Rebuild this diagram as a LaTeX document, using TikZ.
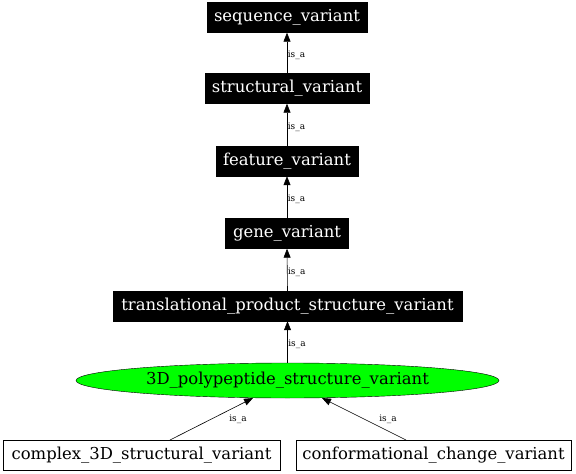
\documentclass[tikz,border=0pt]{standalone}
\usepackage{fontspec}
\setmainfont{DejaVu Serif}
\usetikzlibrary{arrows.meta,shapes.geometric}
\tikzset{
  blackbox/.style={draw=black,fill=black,text=white,inner sep=0pt,minimum height=30bp,font=\fontsize{16.5}{18}\selectfont},
  whitebox/.style={draw=black,fill=white,text=black,inner sep=0pt,minimum height=30bp,font=\fontsize{16.5}{18}\selectfont},
  greenell/.style={ellipse,draw=black,fill=green,inner sep=0pt,minimum width=423bp,minimum height=35bp,font=\fontsize{16.5}{18}\selectfont},
  isa/.style={-{Triangle[length=9bp,width=7bp]},draw=black,line width=0.6bp},
  lab/.style={font=\fontsize{9}{10}\selectfont,inner sep=0.5bp}
}
\begin{document}
\begin{tikzpicture}[x=1bp,y=-1bp]
\useasboundingbox (0,0) rectangle (576,474);
\node[blackbox,minimum width=160bp] (sv) at (287,17.5) {sequence\_variant};
\node[blackbox,minimum width=164bp] (stv) at (287,88.5) {structural\_variant};
\node[blackbox,minimum width=142bp] (fv) at (287,161) {feature\_variant};
\node[blackbox,minimum width=123bp] (gv) at (287,233.5) {gene\_variant};
\node[blackbox,minimum width=349bp] (tpsv) at (287.5,306) {translational\_product\_structure\_variant};
\node[greenell] (pp) at (287.5,380.5) {3D\_polypeptide\_structure\_variant};
\node[whitebox,minimum width=277bp] (cx) at (141.5,455) {complex\_3D\_structural\_variant};
\node[whitebox,minimum width=275bp] (cc) at (433.5,455) {conformational\_change\_variant};
\coordinate (cxs) at (170,440);
\coordinate (ccs) at (406,440);
\coordinate (cxe) at (253,398);
\coordinate (cce) at (322,398);
\draw[isa] (stv.north) -- node[lab,anchor=west,pos=0.45] {is\_a} (sv.south);
\draw[isa] (fv.north) -- node[lab,anchor=west,pos=0.45] {is\_a} (stv.south);
\draw[isa] (gv.north) -- node[lab,anchor=west,pos=0.45] {is\_a} (fv.south);
\draw[isa] (tpsv.north) -- node[lab,anchor=west,pos=0.45] {is\_a} (gv.south);
\draw[isa] (pp.north) -- node[lab,anchor=west,pos=0.45] {is\_a} (tpsv.south);
\draw[isa] (cxs) -- (cxe);
\draw[isa] (ccs) -- (cce);
\node[lab] (l1) at (238,419) {is\_a};
\node[lab] (l2) at (388,419) {is\_a};
\end{tikzpicture}
\end{document}
